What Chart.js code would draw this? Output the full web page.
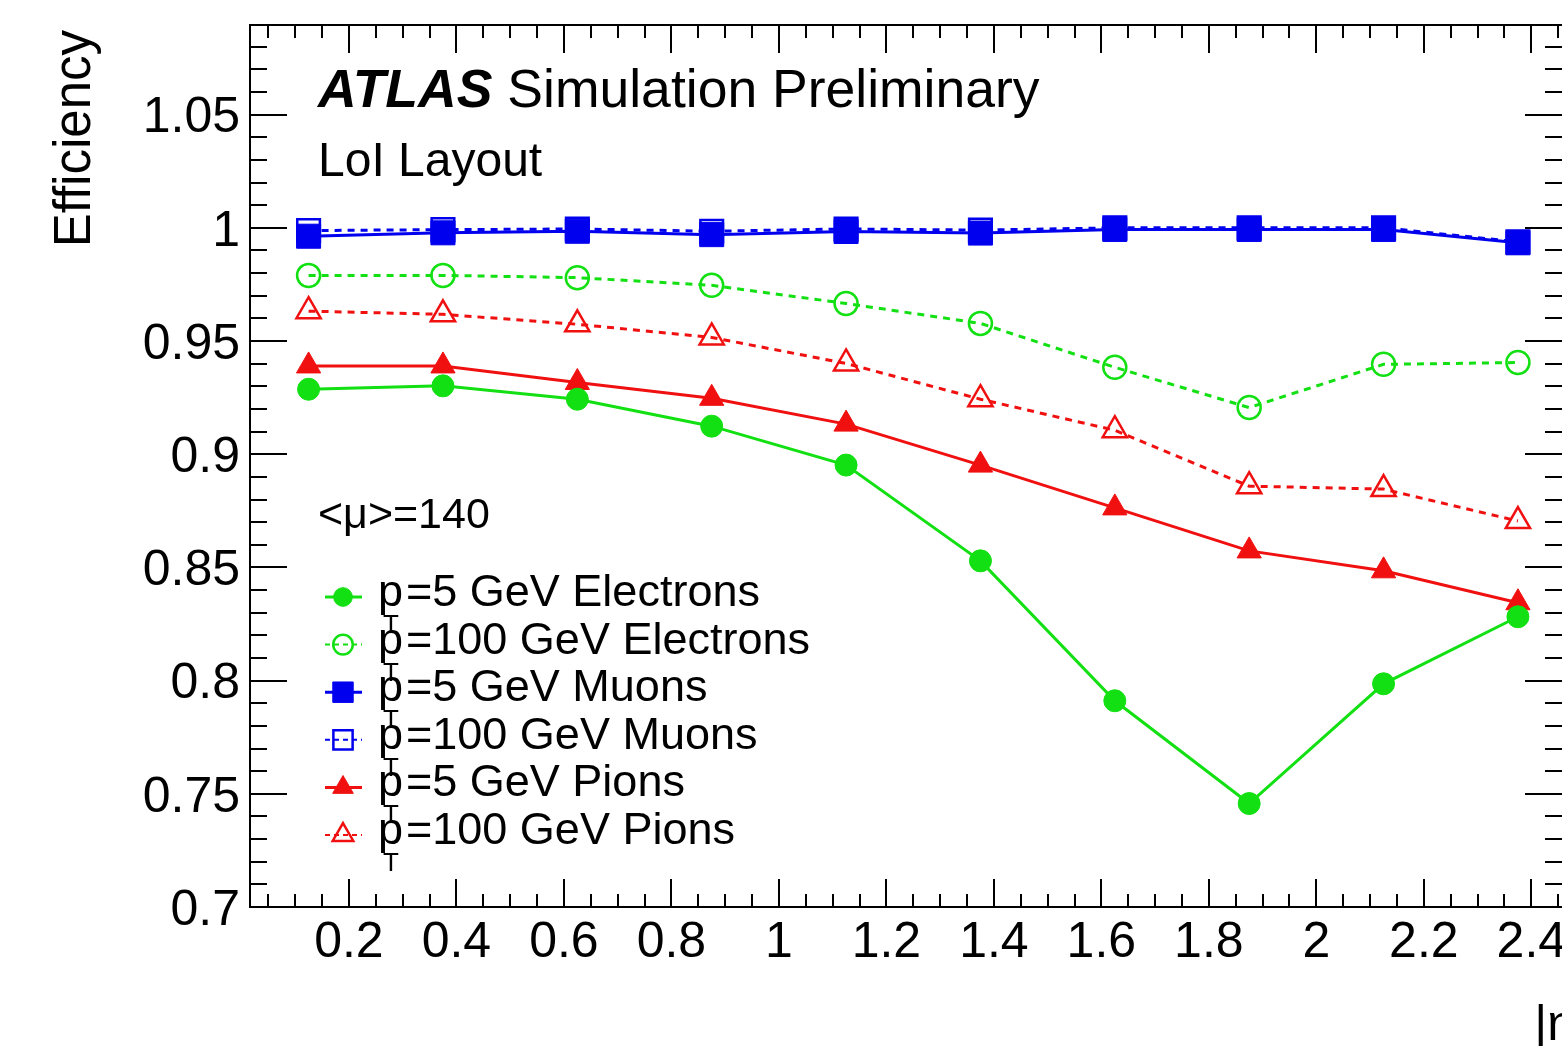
<!DOCTYPE html>
<html>
<head>
<meta charset="utf-8">
<script src="https://cdn.jsdelivr.net/npm/chart.js@4.4.0/dist/chart.umd.min.js"></script>
<style>
html, body { margin: 0; padding: 0; background: #fff; }
#wrap { width: 1562px; height: 1046px; }
</style>
</head>
<body>
<div id="wrap"><canvas id="effChart" width="1562" height="1046"></canvas></div>
<script>
// |eta| bin centres
const etaBins = [0.125, 0.375, 0.625, 0.875, 1.125, 1.375, 1.625, 1.875, 2.125, 2.375];

// efficiencies
const electrons5   = [0.9287, 0.9302, 0.9243, 0.9124, 0.8952, 0.8529, 0.7911, 0.7457, 0.7986, 0.8282];
const electrons100 = [0.9790, 0.9790, 0.9780, 0.9746, 0.9666, 0.9578, 0.9384, 0.9206, 0.9397, 0.9405];
const muons5       = [0.9963, 0.9978, 0.9985, 0.9970, 0.9984, 0.9977, 0.9993, 0.9993, 0.9993, 0.9934];
const muons100     = [0.9988, 0.9992, 0.9995, 0.9985, 0.9995, 0.9990, 1.0000, 1.0000, 1.0000, 0.9938];
const pions5       = [0.9390, 0.9390, 0.9317, 0.9247, 0.9133, 0.8952, 0.8763, 0.8573, 0.8485, 0.8344];
const pions100     = [0.9632, 0.9618, 0.9574, 0.9516, 0.9401, 0.9243, 0.9106, 0.8859, 0.8846, 0.8705];

const xTickValues = [0.2, 0.4, 0.6, 0.8, 1.0, 1.2, 1.4, 1.6, 1.8, 2.0, 2.2, 2.4];
const yTickValues = [0.7, 0.75, 0.8, 0.85, 0.9, 0.95, 1.0, 1.05];

const GREEN = '#12e012';
const RED = '#f01010';
const BLUE = '#0000ee';
const FONT = '"Liberation Sans", Arial, Helvetica, sans-serif';

const pts = arr => etaBins.map((x, i) => ({ x: x, y: arr[i] }));

function series(label, arr, color, dashed, style, radius, filled) {
    return {
        label: label,
        data: pts(arr),
        borderColor: color,
        backgroundColor: color,
        borderWidth: 3,
        borderDash: dashed ? [7, 6] : [],
        pointStyle: style,
        pointRadius: radius,
        pointBorderWidth: filled ? 1 : 2.5,
        pointBorderColor: color,
        pointBackgroundColor: filled ? color : 'rgba(0,0,0,0)',
        tension: 0,
        fill: false,
        clip: false
    };
}

// first dataset is painted on top
const datasets = [
    series('pT=5 GeV Muons', muons5, BLUE, false, 'rect', 17, true),
    series('pT=5 GeV Electrons', electrons5, GREEN, false, 'circle', 11, true),
    series('pT=5 GeV Pions', pions5, RED, false, 'triangle', 14, true),
    series('pT=100 GeV Muons', muons100, BLUE, true, 'rect', 16, false),
    series('pT=100 GeV Electrons', electrons100, GREEN, true, 'circle', 11.5, false),
    series('pT=100 GeV Pions', pions100, RED, true, 'triangle', 14, false)
];
const legendOrder = ['pT=5 GeV Electrons', 'pT=100 GeV Electrons', 'pT=5 GeV Muons',
                     'pT=100 GeV Muons', 'pT=5 GeV Pions', 'pT=100 GeV Pions'];

const fmt = v => parseFloat(Number(v).toFixed(2)).toString();
const noPad = () => ({ left: 0, top: 0, right: 0, bottom: 0 });

// ROOT-style frame with inner ticks on all four sides
const framePlugin = {
    id: 'frame',
    beforeDatasetsDraw(chart) {
        const { ctx, chartArea: a, scales: { x, y } } = chart;
        ctx.save();
        ctx.strokeStyle = '#000';
        ctx.lineWidth = 2;
        ctx.beginPath();
        ctx.moveTo(a.right + 2, a.top);
        ctx.lineTo(a.left, a.top);
        ctx.lineTo(a.left, a.bottom);
        ctx.lineTo(a.right + 2, a.bottom);
        ctx.stroke();
        ctx.beginPath();
        for (let k = 1; k * 0.05 <= x.max + 1e-9; k++) {
            const v = k * 0.05;
            if (v < x.min) continue;
            const px = Math.round(x.getPixelForValue(v));
            const len = k % 4 === 0 ? 28 : 13;
            ctx.moveTo(px, a.bottom); ctx.lineTo(px, a.bottom - len);
            ctx.moveTo(px, a.top); ctx.lineTo(px, a.top + len);
        }
        for (let k = 70; k / 100 <= y.max + 1e-9; k++) {
            const py = Math.round(y.getPixelForValue(k / 100));
            const len = k % 5 === 0 ? 37 : 17;
            ctx.moveTo(a.left, py); ctx.lineTo(a.left + len, py);
            ctx.moveTo(a.right, py); ctx.lineTo(a.right - len, py);
        }
        ctx.stroke();
        ctx.restore();
    }
};

// labels, legend and axis titles
const textPlugin = {
    id: 'texts',
    afterDraw(chart) {
        const ctx = chart.ctx;
        ctx.save();
        ctx.fillStyle = '#000';
        ctx.textAlign = 'left';
        ctx.textBaseline = 'alphabetic';

        ctx.font = 'italic bold 53.5px ' + FONT;
        ctx.fillText('ATLAS', 318, 107);
        const w = ctx.measureText('ATLAS').width;
        ctx.font = '53.5px ' + FONT;
        ctx.fillText('Simulation Preliminary', 318 + w + 15, 107);

        ctx.font = '48px ' + FONT;
        ctx.fillText('LoI Layout', 318, 176);

        ctx.font = '43px ' + FONT;
        ctx.fillText('<\u03bc>=140', 318, 528);

        // legend
        legendOrder.forEach((lab, i) => {
            const ds = datasets.find(d => d.label === lab);
            const yb = 606 + i * 47.6;
            const ym = yb - 9;
            ctx.save();
            ctx.strokeStyle = ds.borderColor;
            ctx.lineWidth = ds.borderDash.length ? 2 : 3;
            ctx.setLineDash(ds.borderDash.length ? [5, 4] : []);
            ctx.beginPath();
            ctx.moveTo(325, ym); ctx.lineTo(362, ym);
            ctx.stroke();
            ctx.setLineDash([]);
            ctx.fillStyle = ds.pointBackgroundColor;
            ctx.strokeStyle = ds.pointBorderColor;
            ctx.lineWidth = ds.pointBorderWidth;
            Chart.helpers.drawPoint(ctx, {
                pointStyle: ds.pointStyle,
                radius: ds.pointRadius * 0.85,
                borderWidth: ds.pointBorderWidth,
                rotation: 0
            }, 343, ym);
            ctx.restore();

            ctx.font = '45px ' + FONT;
            ctx.fillText('p', 378, yb);
            ctx.font = '26px ' + FONT;
            ctx.fillText('T', 383, yb + 27);
            ctx.font = '45px ' + FONT;
            ctx.fillText(lab.slice(2), 406, yb);
        });

        // y axis title
        ctx.save();
        ctx.translate(90, 30);
        ctx.rotate(-Math.PI / 2);
        ctx.textAlign = 'right';
        ctx.font = '51px ' + FONT;
        ctx.fillText('Efficiency', 0, 0);
        ctx.restore();

        // x axis title (cut by the right edge, as in the original)
        ctx.font = '50px ' + FONT;
        ctx.textAlign = 'right';
        ctx.fillText('|\u03b7|', 1588, 1040);
        ctx.restore();
    }
};

const ctx = document.getElementById('effChart').getContext('2d');
const effChart = new Chart(ctx, {
    type: 'line',
    data: { datasets: datasets },
    options: {
        responsive: false,
        animation: false,
        events: [],
        layout: { autoPadding: false, padding: { top: 25, left: 0, right: 0, bottom: 0 } },
        plugins: {
            legend: { display: false },
            tooltip: { enabled: false }
        },
        scales: {
            x: {
                type: 'linear',
                min: 0.016,
                max: 2.457,
                grid: { display: false, drawTicks: false },
                border: { display: false },
                ticks: {
                    color: '#000',
                    font: { family: FONT, size: 50 },
                    padding: 6,
                    autoSkip: false,
                    maxRotation: 0,
                    callback: v => fmt(v)
                },
                afterBuildTicks: s => { s.ticks = xTickValues.map(v => ({ value: v })); },
                afterFit: s => {
                    s.height = 139;
                    s.paddingLeft = 0; s.paddingRight = 0;
                    s.getPadding = noPad;
                }
            },
            y: {
                type: 'linear',
                min: 0.7,
                max: 1.0896,
                grid: { display: false, drawTicks: false },
                border: { display: false },
                ticks: {
                    color: '#000',
                    font: { family: FONT, size: 50 },
                    padding: 10,
                    labelOffset: 4,
                    autoSkip: false,
                    callback: v => fmt(v)
                },
                afterBuildTicks: s => { s.ticks = yTickValues.map(v => ({ value: v })); },
                afterFit: s => {
                    s.width = 250;
                    s.paddingTop = 0; s.paddingBottom = 0;
                    s.getPadding = noPad;
                }
            }
        }
    },
    plugins: [framePlugin, textPlugin]
});
</script>
</body>
</html>
